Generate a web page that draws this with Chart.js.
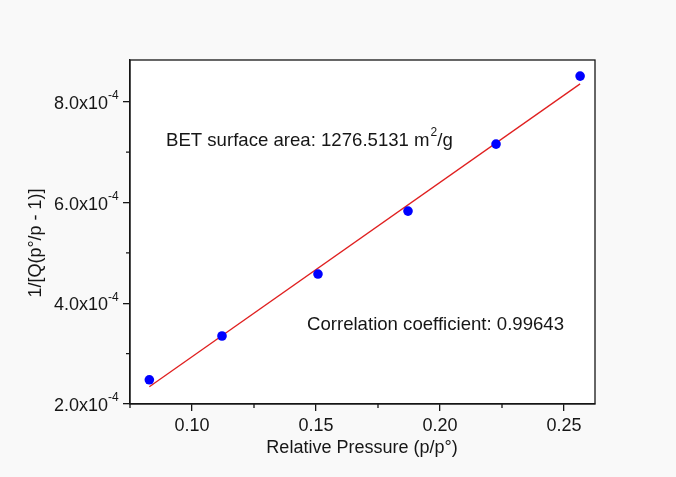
<!DOCTYPE html>
<html>
<head>
<meta charset="utf-8">
<script src="https://cdn.jsdelivr.net/npm/chart.js@4"></script>
<style>
  body { margin: 0; background: #f9f9f9; }
  #wrap { width: 676px; height: 477px; }
</style>
</head>
<body>
<div id="wrap"><canvas id="betChart"></canvas></div>
<script>
// measured points (relative pressure vs 1/[Q(p°/p - 1)])
const pressure = [0.0828, 0.1121, 0.1508, 0.1871, 0.2226, 0.2565];
const betValue = [2.48e-4, 3.35e-4, 4.58e-4, 5.83e-4, 7.16e-4, 8.51e-4];

// linear fit end points
const fitX = [0.0828, 0.2565];
const fitY = [2.344e-4, 8.356e-4];

const xMajor = [0.10, 0.15, 0.20, 0.25];
const xMinor = [0.075, 0.125, 0.175, 0.225];
const yMajor = [2e-4, 4e-4, 6e-4, 8e-4];
const yMinor = [3e-4, 5e-4, 7e-4];

const FONT = '"Liberation Sans", Arial, sans-serif';
const ink = '#161616';

const ctx = document.getElementById('betChart').getContext('2d');

// frame, minor ticks, y labels with exponents, titles, notes
const decor = {
        id: 'decor',
        beforeDraw(chart) {
                const a = chart.chartArea;
                const c = chart.ctx;
                c.save();
                c.fillStyle = '#ffffff';
                c.fillRect(a.left, a.top, a.right - a.left, a.bottom - a.top);
                c.restore();
        },
        afterDraw(chart) {
                const a = chart.chartArea;
                const c = chart.ctx;
                const xs = chart.scales.x;
                const ys = chart.scales.y;
                c.save();
                c.strokeStyle = ink;
                c.lineWidth = 1.3;
                c.strokeRect(a.left, a.top, a.right - a.left, a.bottom - a.top);

                c.beginPath();
                xMinor.forEach(v => {
                        const p = xs.getPixelForValue(v);
                        c.moveTo(p, a.bottom);
                        c.lineTo(p, a.bottom + 4);
                });
                yMinor.forEach(v => {
                        const p = ys.getPixelForValue(v);
                        c.moveTo(a.left, p);
                        c.lineTo(a.left - 4, p);
                });
                c.stroke();

                c.fillStyle = ink;
                c.textBaseline = 'middle';
                yMajor.forEach(v => {
                        const p = ys.getPixelForValue(v);
                        c.font = '18px ' + FONT;
                        c.textAlign = 'right';
                        c.fillText((v * 1e4).toFixed(1) + 'x10', a.left - 22, p + 2);
                        c.font = '12px ' + FONT;
                        c.textAlign = 'left';
                        c.fillText('-4', a.left - 22, p - 6);
                });

                // axis titles
                c.font = '18px ' + FONT;
                c.textAlign = 'center';
                c.fillText('Relative Pressure (p/p°)', 362, 448);
                c.save();
                c.translate(36, 243);
                c.rotate(-Math.PI / 2);
                c.fillText('1/[Q(p°/p - 1)]', 0, 0);
                c.restore();

                // notes
                c.textAlign = 'left';
                c.font = '18.6px ' + FONT;
                const t = 'BET surface area: 1276.5131 m';
                c.fillText(t, 166, 141);
                const w = c.measureText(t).width;
                c.font = '12px ' + FONT;
                c.fillText('2', 166 + w + 1, 133);
                const w2 = c.measureText('2').width;
                c.font = '18.6px ' + FONT;
                c.fillText('/g', 166 + w + w2 + 1, 141);

                c.fillText('Correlation coefficient: 0.99643', 307, 325);
                c.restore();
        }
};

const data = {
        datasets: [
                {
                        type: 'scatter',
                        label: 'data',
                        data: pressure.map((p, i) => ({ x: p, y: betValue[i] })),
                        pointRadius: 4.8,
                        pointBackgroundColor: '#0000ff',
                        pointBorderColor: '#0000ff',
                        pointBorderWidth: 0,
                        order: 0,
                },
                {
                        type: 'line',
                        label: 'fit',
                        data: fitX.map((p, i) => ({ x: p, y: fitY[i] })),
                        borderColor: '#e02020',
                        borderWidth: 1.3,
                        pointRadius: 0,
                        fill: false,
                        order: 1,
                },
        ],
};

const config = {
        data: data,
        options: {
                responsive: true,
                maintainAspectRatio: false,
                animation: false,
                layout: { padding: { top: 60, right: 81, left: 0, bottom: 0 } },
                plugins: {
                        legend: { display: false },
                        tooltip: { enabled: false },
                },
                scales: {
                        x: {
                                type: 'linear',
                                min: 0.075,
                                max: 0.2625,
                                afterBuildTicks: (s) => { s.ticks = xMajor.map(v => ({ value: v })); },
                                afterFit: (s) => { s.height = 73; },
                                grid: { drawOnChartArea: false, drawTicks: true, tickLength: 7, color: ink, lineWidth: 1.3 },
                                border: { display: true, color: ink, width: 1.3 },
                                ticks: {
                                        autoSkip: false,
                                        maxRotation: 0,
                                        padding: 4,
                                        color: ink,
                                        font: { family: FONT, size: 18 },
                                        callback: (v) => Number(v).toFixed(2),
                                },
                        },
                        y: {
                                type: 'linear',
                                min: 2e-4,
                                max: 8.83e-4,
                                afterBuildTicks: (s) => { s.ticks = yMajor.map(v => ({ value: v })); },
                                afterFit: (s) => { s.width = 130; },
                                grid: { drawOnChartArea: false, drawTicks: true, tickLength: 7, color: ink, lineWidth: 1.3 },
                                border: { display: true, color: ink, width: 1.3 },
                                ticks: { callback: () => '' },
                        },
                },
        },
        plugins: [decor],
};

const betChart = new Chart(ctx, config);
</script>
</body>
</html>
